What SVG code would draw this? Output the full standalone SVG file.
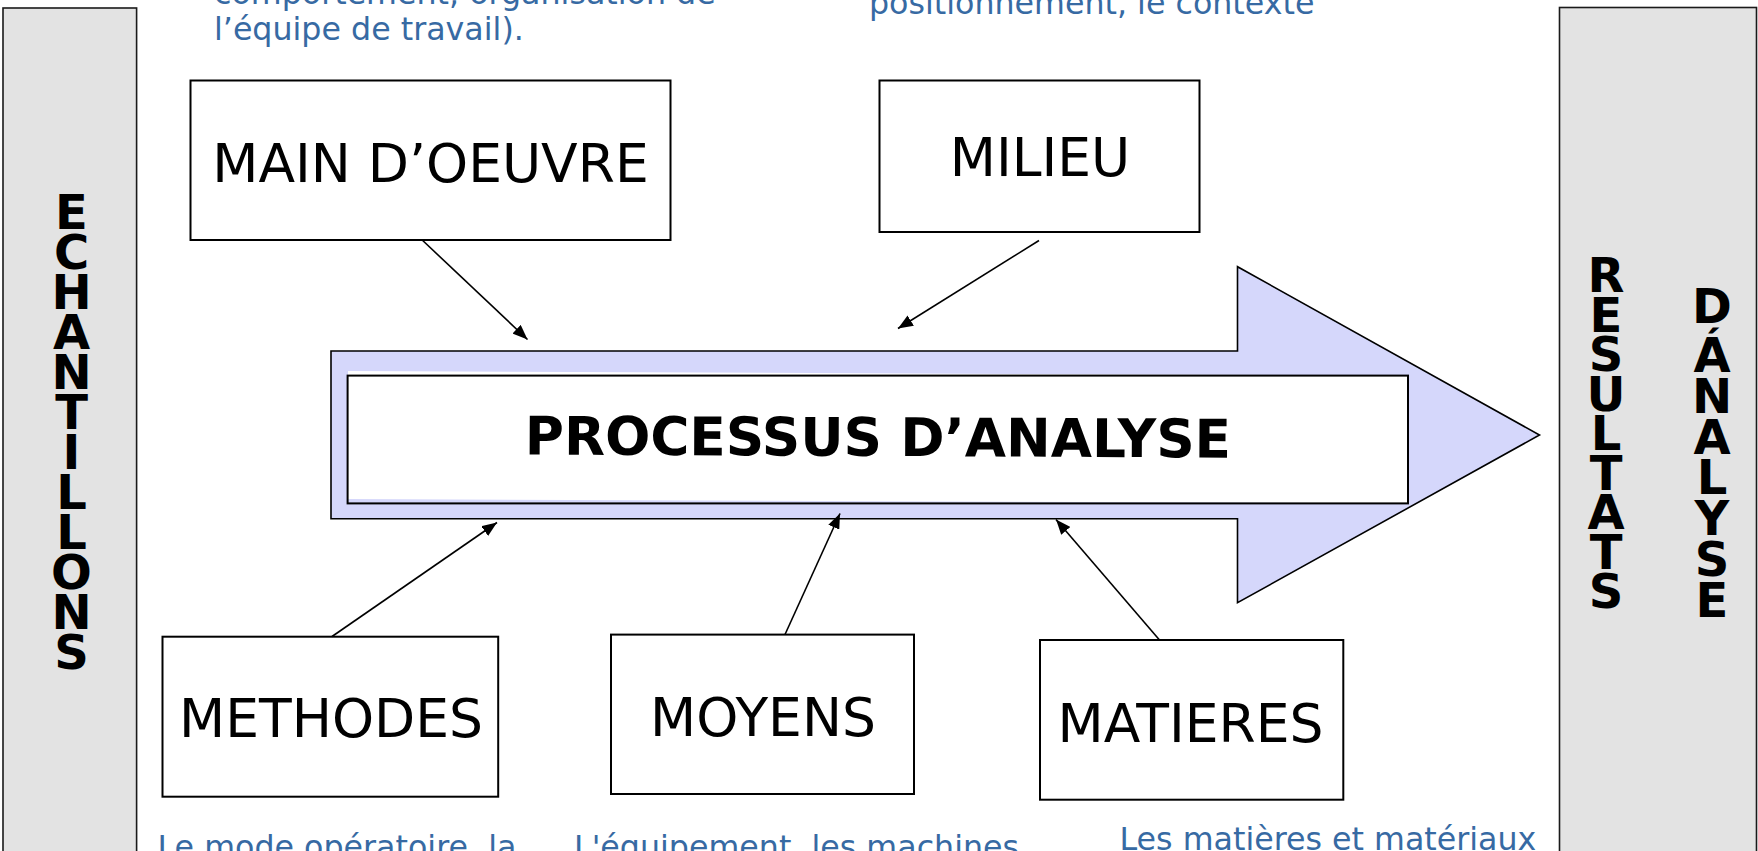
<svg xmlns="http://www.w3.org/2000/svg" width="1758" height="851" viewBox="0 0 1758 851">
  <defs>
    <marker id="arrow" markerUnits="userSpaceOnUse" markerWidth="16" markerHeight="12" refX="15" refY="6" orient="auto">
      <path d="M0,0 L15,6 L0,12 z" fill="#000"/>
    </marker>
    <style>
      .panel{fill:#e3e3e3;stroke:#1a1a1a;stroke-width:1.6}
      .box{fill:#fff;stroke:#000;stroke-width:2}
      .lbl{font-family:"DejaVu Sans",Verdana,sans-serif;font-size:53.5px;fill:#000;text-anchor:middle}
      .vert{font-family:"DejaVu Sans",Verdana,sans-serif;font-weight:bold;font-size:48px;fill:#000;text-anchor:middle}
      .title{font-family:"DejaVu Sans",Verdana,sans-serif;font-weight:bold;font-size:53.3px;fill:#000;text-anchor:middle}
      .note{font-family:"DejaVu Sans",Verdana,sans-serif;font-size:31.7px;fill:#376aa3}
      .conn{stroke:#000;stroke-width:1.6;fill:none;marker-end:url(#arrow)}
    </style>
  </defs>

  <rect width="1758" height="851" fill="#fff"/>

  <!-- input column: letters stacked one per line -->
  <g id="echantillons">
    <rect class="panel" x="3" y="8" width="133.6" height="870"/>
    <text class="vert" x="71.5" y="228.5"><tspan x="71.5">E</tspan><tspan x="71.5" dy="40">C</tspan><tspan x="71.5" dy="40">H</tspan><tspan x="71.5" dy="40">A</tspan><tspan x="71.5" dy="40">N</tspan><tspan x="71.5" dy="40">T</tspan><tspan x="71.5" dy="40">I</tspan><tspan x="71.5" dy="40">L</tspan><tspan x="71.5" dy="40">L</tspan><tspan x="71.5" dy="40">O</tspan><tspan x="71.5" dy="40">N</tspan><tspan x="71.5" dy="40">S</tspan></text>
  </g>

  <!-- output column -->
  <g id="resultats">
    <rect class="panel" x="1559.5" y="7.5" width="197" height="870"/>
    <text class="vert" x="1606" y="292"><tspan x="1606">R</tspan><tspan x="1606" dy="39.5">E</tspan><tspan x="1606" dy="39.5">S</tspan><tspan x="1606" dy="39.5">U</tspan><tspan x="1606" dy="39.5">L</tspan><tspan x="1606" dy="39.5">T</tspan><tspan x="1606" dy="39.5">A</tspan><tspan x="1606" dy="39.5">T</tspan><tspan x="1606" dy="39.5">S</tspan></text>
    <text class="vert" x="1712" y="323"><tspan x="1712">D</tspan><tspan x="1712" dy="49">Á</tspan><tspan x="1712" dy="40.8">N</tspan><tspan x="1712" dy="40.8">A</tspan><tspan x="1712" dy="40.8">L</tspan><tspan x="1712" dy="40.8">Y</tspan><tspan x="1712" dy="40.8">S</tspan><tspan x="1712" dy="40.8">E</tspan></text>
  </g>

  <!-- central process arrow -->
  <g id="processus">
    <polygon points="331,351 1237.5,351 1237.5,266.7 1539.5,435 1237.5,602.7 1237.5,518.8 331,518.8" fill="#d5d7fb" stroke="#000" stroke-width="1.6"/>
    <polygon points="348,371 1408,375.6 1408,503.4 348,499" fill="#fff"/>
    <rect x="347.6" y="375.6" width="1060.4" height="127.8" fill="none" stroke="#000" stroke-width="2"/>
    <text class="title" x="878" y="456" transform="rotate(0.25 878 440)">PROCESSUS D’ANALYSE</text>
  </g>

  <!-- cause boxes -->
  <g id="main-oeuvre">
    <rect class="box" x="190.5" y="80.5" width="480" height="159.5"/>
    <text class="lbl" x="430.5" y="182">MAIN D’OEUVRE</text>
  </g>
  <g id="milieu">
    <rect class="box" x="879.5" y="80.5" width="320" height="151.5"/>
    <text class="lbl" x="1040" y="176">MILIEU</text>
  </g>
  <g id="methodes">
    <rect class="box" x="162.5" y="636.7" width="335.7" height="160"/>
    <text class="lbl" x="331" y="737">METHODES</text>
  </g>
  <g id="moyens">
    <rect class="box" x="611" y="634.6" width="303" height="159.4"/>
    <text class="lbl" x="763" y="735.5">MOYENS</text>
  </g>
  <g id="matieres">
    <rect class="box" x="1040" y="640" width="303.3" height="159.7"/>
    <text class="lbl" x="1190.5" y="742">MATIERES</text>
  </g>

  <!-- descriptions -->
  <g id="notes">
    <text class="note" x="214" y="4">comportement, organisation de</text>
    <text class="note" x="214" y="40">l’équipe de travail).</text>
    <text class="note" x="869" y="13.5">positionnement, le contexte</text>
    <text class="note" x="157.5" y="858">Le mode opératoire, la</text>
    <text class="note" x="574" y="858">L'équipement, les machines</text>
    <text class="note" x="1119.5" y="850">Les matières et matériaux</text>
  </g>

  <!-- connectors -->
  <g id="connectors">
    <line class="conn" x1="422.7" y1="240.5" x2="527.5" y2="339.5"/>
    <line class="conn" x1="1039" y1="240.5" x2="898" y2="328.5"/>
    <line class="conn" x1="332" y1="636.5" x2="497" y2="522.5"/>
    <line class="conn" x1="785" y1="634.5" x2="840" y2="513.5"/>
    <line class="conn" x1="1159.5" y1="640" x2="1056" y2="519.5"/>
  </g>
</svg>
